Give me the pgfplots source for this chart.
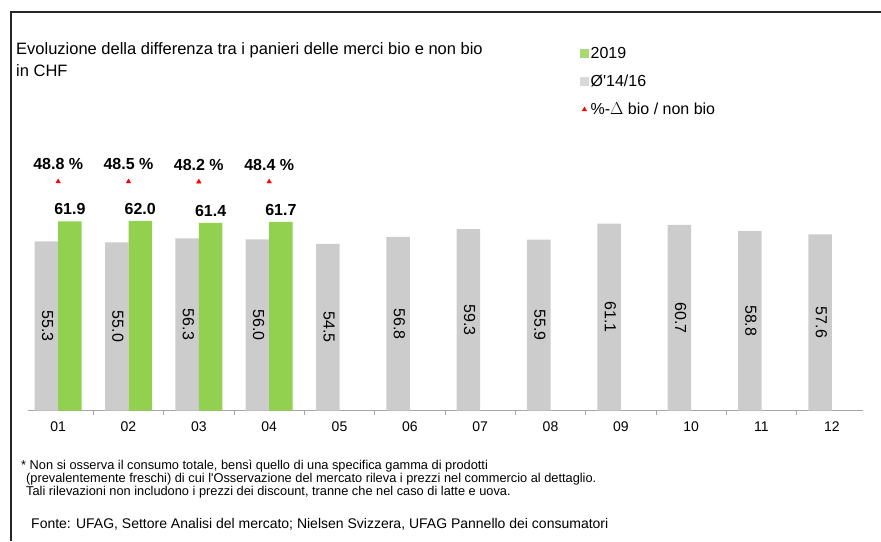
\documentclass[border=0pt]{standalone}
\usepackage{fontspec}
\setmainfont[Ligatures=TeXOff]{Liberation Sans}
\usepackage{pgfplots}
\pgfplotsset{compat=1.18}

\definecolor{bargreen}{RGB}{146,208,80}
\definecolor{bargray}{RGB}{204,204,204}

\begin{document}
\begin{tikzpicture}[x=1pt,y=1pt]
\useasboundingbox (0,0) rectangle (881,541);
% frame
\draw[line width=1.8pt, black!85] (11,0) -- (11,529) -- (881,529);

% title
\node[anchor=west, align=left, inner sep=0pt, font=\fontsize{16.5}{22}\selectfont] at (16,481.5)
  {Evoluzione della differenza tra i panieri delle merci bio e non bio\\in CHF};

% bars
\begin{axis}[
    at={(23pt,130.3pt)}, anchor=south west,
    scale only axis, width=844pt, height=306pt,
    xmin=-0.5, xmax=11.5, ymin=0, ymax=100,
    axis x line=bottom, axis y line=none,
    x axis line style={draw=none},
    xtick={0,...,11},
    xticklabels={01,02,03,04,05,06,07,08,09,10,11,12},
    major tick length=0pt,
    minor xtick={0.5,1.5,...,10.5},
    minor tick length=4pt,
    tick align=outside,
    tick style={gray!70, line width=0.8pt},
    xticklabel style={font=\fontsize{14}{16}\selectfont, text height=10pt, text depth=0pt, yshift=-7pt},
    /pgf/number format/assume math mode=true,
    /pgf/number format/.cd, fixed, fixed zerofill, precision=1,
    /pgfplots/.cd,
    clip=false,
]
\draw[gray!70, line width=0.8pt] (axis cs:-0.43,0) -- (axis cs:11.44,0);

% Ø'14/16
\addplot[ybar, bar width=23.5pt, bar shift=-11.75pt, fill=bargray, draw=none,
    nodes near coords,
    visualization depends on={rawy/2 \as \halfy},
    every node near coord/.append style={shift={(axis direction cs:0,-\halfy)},
        xshift=-10.5pt, rotate=-90, anchor=center,
        font=\fontsize{16}{18}\selectfont}]
coordinates {(0,55.3)(1,55.0)(2,56.3)(3,56.0)(4,54.5)(5,56.8)(6,59.3)(7,55.9)(8,61.1)(9,60.7)(10,58.8)(11,57.6)};

% 2019
\addplot[ybar, bar width=23.5pt, bar shift=11.75pt, fill=bargreen, draw=none,
    nodes near coords,
    every node near coord/.append style={xshift=11.75pt, anchor=south, yshift=3pt,
        font=\bfseries\fontsize{16}{18}\selectfont}]
coordinates {(0,61.9)(1,62.0)(2,61.4)(3,61.7)};
\end{axis}

% %-Delta bio / non bio
\begin{axis}[
    at={(23pt,130.3pt)}, anchor=south west,
    scale only axis, width=844pt, height=306pt,
    xmin=-0.5, xmax=11.5, ymin=-1000, ymax=401,
    hide axis, clip=false,
    /pgf/number format/assume math mode=true,
    legend style={at={(0.66,1.195)}, anchor=north west, draw=none, fill=none,
        font=\fontsize{16}{18}\selectfont, row sep=11pt, inner sep=0pt,
        /tikz/every even column/.append style={column sep=4pt}},
    legend cell align=left,
]
\addlegendimage{legend image code/.code={\fill[bargreen!80!white] (0pt,-4pt) rectangle (8pt,4pt);}}
\addlegendentry{2019}
\addlegendimage{legend image code/.code={\fill[bargray!75!white] (0pt,-4pt) rectangle (8pt,4pt);}}
\addlegendentry{Ø'14/16}
\addplot[only marks, mark=triangle*, mark size=2.6pt, color=red,
    legend image code/.code={\draw[red, mark=triangle*, mark size=2.6pt, mark repeat=2, mark phase=2] plot coordinates {(0pt,0pt) (4pt,0pt) (8pt,0pt)};},
    nodes near coords={\pgfmathprintnumber[fixed,fixed zerofill,precision=1]{\pgfplotspointmeta}~\%},
    every node near coord/.append style={anchor=south, yshift=8pt, text=black,
        font=\bfseries\fontsize{16}{18}\selectfont}]
coordinates {(0,48.8)(1,48.5)(2,48.2)(3,48.4)};
\addlegendentry{\%-$\Delta$ bio / non bio}
\end{axis}

% notes
\node[anchor=north west, align=left, inner sep=0pt, font=\fontsize{12.8}{13}\selectfont] at (21,81)
  {* Non si osserva il consumo totale, bensì quello di una specifica gamma di prodotti\\
   \hspace*{5pt}(prevalentemente freschi) di cui l'Osservazione del mercato rileva i prezzi nel commercio al dettaglio.\\
   \hspace*{5pt}Tali rilevazioni non includono i prezzi dei discount, tranne che nel caso di latte e uova.};
\node[anchor=west, inner sep=0pt, font=\fontsize{14}{16}\selectfont] at (31,17)
  {Fonte: UFAG, Settore Analisi del mercato; Nielsen Svizzera, UFAG Pannello dei consumatori};
\end{tikzpicture}
\end{document}
